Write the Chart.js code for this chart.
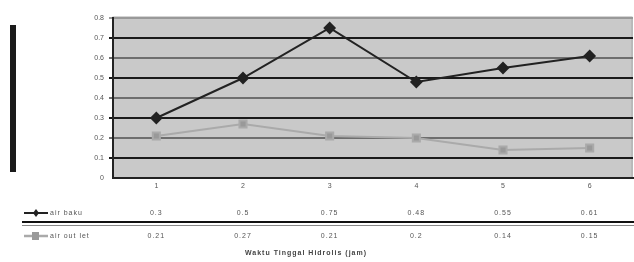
<!DOCTYPE html>
<html>
<head>
<meta charset="utf-8">
<script src="https://cdn.jsdelivr.net/npm/chart.js@4.4.0/dist/chart.umd.min.js"></script>
<style>
  html, body { margin: 0; padding: 0; background: #fff; }
  #wrap { width: 634px; height: 262px; position: relative; }
</style>
</head>
<body>
<div id="wrap"><canvas id="chart" width="634" height="262"></canvas></div>
<script>
const categories = ['1', '2', '3', '4', '5', '6'];
const airBaku = [0.3, 0.5, 0.75, 0.48, 0.55, 0.61];
const airOutlet = [0.21, 0.27, 0.21, 0.2, 0.14, 0.15];
const seriesNames = ['air baku', 'air out let'];
const xTitle = 'Waktu Tinggal Hidrolis (jam)';

const textColor = '#555';
const tinyFont = '7px "Liberation Sans", Arial, sans-serif';

// grey plot background, left black bar, data table under the axis
const decorations = {
  id: 'decorations',
  beforeDraw(chart) {
    const { ctx, chartArea } = chart;
    ctx.save();
    ctx.fillStyle = '#fff';
    ctx.fillRect(0, 0, chart.width, chart.height);
    ctx.fillStyle = '#c9c9c9';
    ctx.fillRect(chartArea.left, chartArea.top, chartArea.right - chartArea.left, chartArea.bottom - chartArea.top);
    ctx.strokeStyle = '#aaa';
    ctx.lineWidth = 1;
    ctx.strokeRect(chartArea.left, chartArea.top - 1, chartArea.right - chartArea.left - 1, chartArea.bottom - chartArea.top + 1);
    ctx.fillStyle = '#1a1a1a';
    ctx.fillRect(10, 25, 6, 147);
    ctx.restore();
  },
  afterDraw(chart) {
    const { ctx } = chart;
    const xScale = chart.scales.x;
    ctx.save();
    ctx.font = tinyFont;
    ctx.fillStyle = textColor;
    ctx.textBaseline = 'middle';
    if ('letterSpacing' in ctx) ctx.letterSpacing = '1px';

    const rows = [
      { name: seriesNames[0], values: airBaku, y: 213, line: '#222', marker: 'diamond' },
      { name: seriesNames[1], values: airOutlet, y: 236, line: '#aaa', marker: 'square' },
    ];
    rows.forEach((row) => {
      // legend key
      ctx.strokeStyle = row.line;
      ctx.lineWidth = row.marker === 'diamond' ? 2 : 2.5;
      ctx.beginPath();
      ctx.moveTo(24, row.y);
      ctx.lineTo(48, row.y);
      ctx.stroke();
      if (row.marker === 'diamond') {
        ctx.fillStyle = '#222';
        ctx.beginPath();
        ctx.moveTo(36, row.y - 4);
        ctx.lineTo(39, row.y);
        ctx.lineTo(36, row.y + 4);
        ctx.lineTo(33, row.y);
        ctx.closePath();
        ctx.fill();
      } else {
        ctx.fillStyle = '#999';
        ctx.fillRect(32, row.y - 4, 7, 8);
      }
      ctx.fillStyle = textColor;
      ctx.textAlign = 'left';
      ctx.fillText(row.name, 50, row.y);
      ctx.textAlign = 'center';
      row.values.forEach((v, i) => {
        ctx.fillText(String(v), xScale.getPixelForValue(i), row.y);
      });
    });

    // separator
    ctx.strokeStyle = '#111';
    ctx.lineWidth = 2;
    ctx.beginPath();
    ctx.moveTo(22, 222);
    ctx.lineTo(634, 222);
    ctx.stroke();
    ctx.strokeStyle = '#888';
    ctx.lineWidth = 1;
    ctx.beginPath();
    ctx.moveTo(22, 225.5);
    ctx.lineTo(634, 225.5);
    ctx.stroke();

    ctx.font = 'bold 7px "Liberation Sans", Arial, sans-serif';
    ctx.fillStyle = '#444';
    ctx.textAlign = 'center';
    ctx.fillText(xTitle, 306, 253);
    ctx.restore();
  },
};

new Chart(document.getElementById('chart'), {
  type: 'line',
  data: {
    labels: categories,
    datasets: [
      {
        label: seriesNames[0],
        data: airBaku,
        borderColor: '#222',
        backgroundColor: '#222',
        borderWidth: 2,
        pointStyle: 'rectRot',
        pointRadius: 5,
        tension: 0,
      },
      {
        label: seriesNames[1],
        data: airOutlet,
        borderColor: '#aaa',
        backgroundColor: '#999',
        borderWidth: 2,
        pointStyle: 'rect',
        pointRadius: 5,
        tension: 0,
      },
    ],
  },
  options: {
    responsive: false,
    animation: false,
    layout: { autoPadding: false, padding: { top: 18, right: 1, left: 0, bottom: 0 } },
    plugins: {
      legend: { display: false },
      tooltip: { enabled: false },
    },
    scales: {
      x: {
        offset: true,
        grid: { display: false, drawTicks: false },
        border: { color: '#222', width: 2 },
        ticks: { color: textColor, font: { size: 7, family: 'Liberation Sans' }, padding: 4 },
        afterFit(scale) { scale.height = 84; },
      },
      y: {
        min: 0,
        max: 0.8,
        ticks: {
          stepSize: 0.1,
          color: textColor,
          font: { size: 7, family: 'Liberation Sans' },
          padding: 5,
          callback: (v) => (v === 0 ? '0' : v.toFixed(1)),
        },
        grid: {
          tickLength: 4,
          lineWidth: (c) => (c.index === 0 ? 0 : 2),
          color: (c) => {
            if (c.index === 8) return '#999';
            return c.index % 2 === 1 ? '#1a1a1a' : '#6e6e6e';
          },
        },
        border: { color: '#222', width: 2 },
        afterFit(scale) { scale.width = 113; },
      },
    },
  },
  plugins: [decorations],
});
</script>
</body>
</html>
